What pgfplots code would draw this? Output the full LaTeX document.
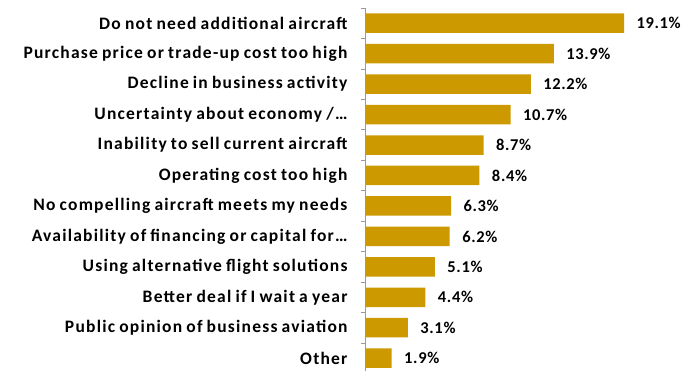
\documentclass[border=0pt]{standalone}
\usepackage{pgfplots}
\pgfplotsset{compat=1.18}
\usepackage{fontspec}
\setmainfont{Carlito}
\newfontfamily\lblfont{Carlito}[LetterSpace=7,WordSpace=0.8]
\newfontfamily\valfont{Carlito}[LetterSpace=4]
\definecolor{bargold}{RGB}{204,153,0}
\begin{document}
\begin{tikzpicture}
\begin{axis}[
  name=ax,
  scale only axis,
  width=258pt, height=365.4pt,
  xbar, bar width=19.5pt,
  xmin=0, xmax=19.1,
  ymin=-0.5, ymax=11.5,
  y dir=reverse,
  axis x line=none,
  axis y line*=left,
  y axis line style={draw=gray!80, line width=1pt},
  ytick={0,1,2,3,4,5,6,7,8,9,10,11},
  yticklabels={{Do not need additional aircraft},{Purchase price or trade-up cost too high},{Decline in business activity},{Uncertainty about economy /\ldots},{Inability to sell current aircraft},{Operating cost too high},{No compelling aircraft meets my needs},{Availability of financing or capital for\ldots},{Using alternative flight solutions},{Better deal if I wait a year},{Public opinion of business aviation},{Other}},
  major tick length=0pt,
  minor ytick={-0.5,0.5,1.5,2.5,3.5,4.5,5.5,6.5,7.5,8.5,9.5,10.5,11.5},
  minor tick length=5pt,
  tick align=outside,
  minor tick style={draw=gray!80, line width=0.8pt},
  yticklabel style={font=\lblfont\fontsize{17.5}{19}\selectfont\bfseries, anchor=east, xshift=-15pt},
  nodes near coords={\pgfmathprintnumber[fixed,precision=1,fixed zerofill,assume math mode=true]{\pgfplotspointmeta}\%},
  point meta=x,
  nodes near coords style={font=\valfont\fontsize{16.5}{18}\selectfont\bfseries, anchor=west, xshift=9pt},
  clip=false,
]
\addplot[fill=bargold, draw=none] coordinates {
(19.1,0) (13.9,1) (12.2,2) (10.7,3) (8.7,4) (8.4,5) (6.3,6) (6.2,7) (5.1,8) (4.4,9) (3.1,10) (1.9,11)
};
\coordinate (TL) at (rel axis cs:0,1);
\end{axis}
\pgfresetboundingbox
\path ([xshift=-366pt,yshift=8pt]TL) rectangle ([xshift=321pt,yshift=-362pt]TL);
\end{tikzpicture}
\end{document}
